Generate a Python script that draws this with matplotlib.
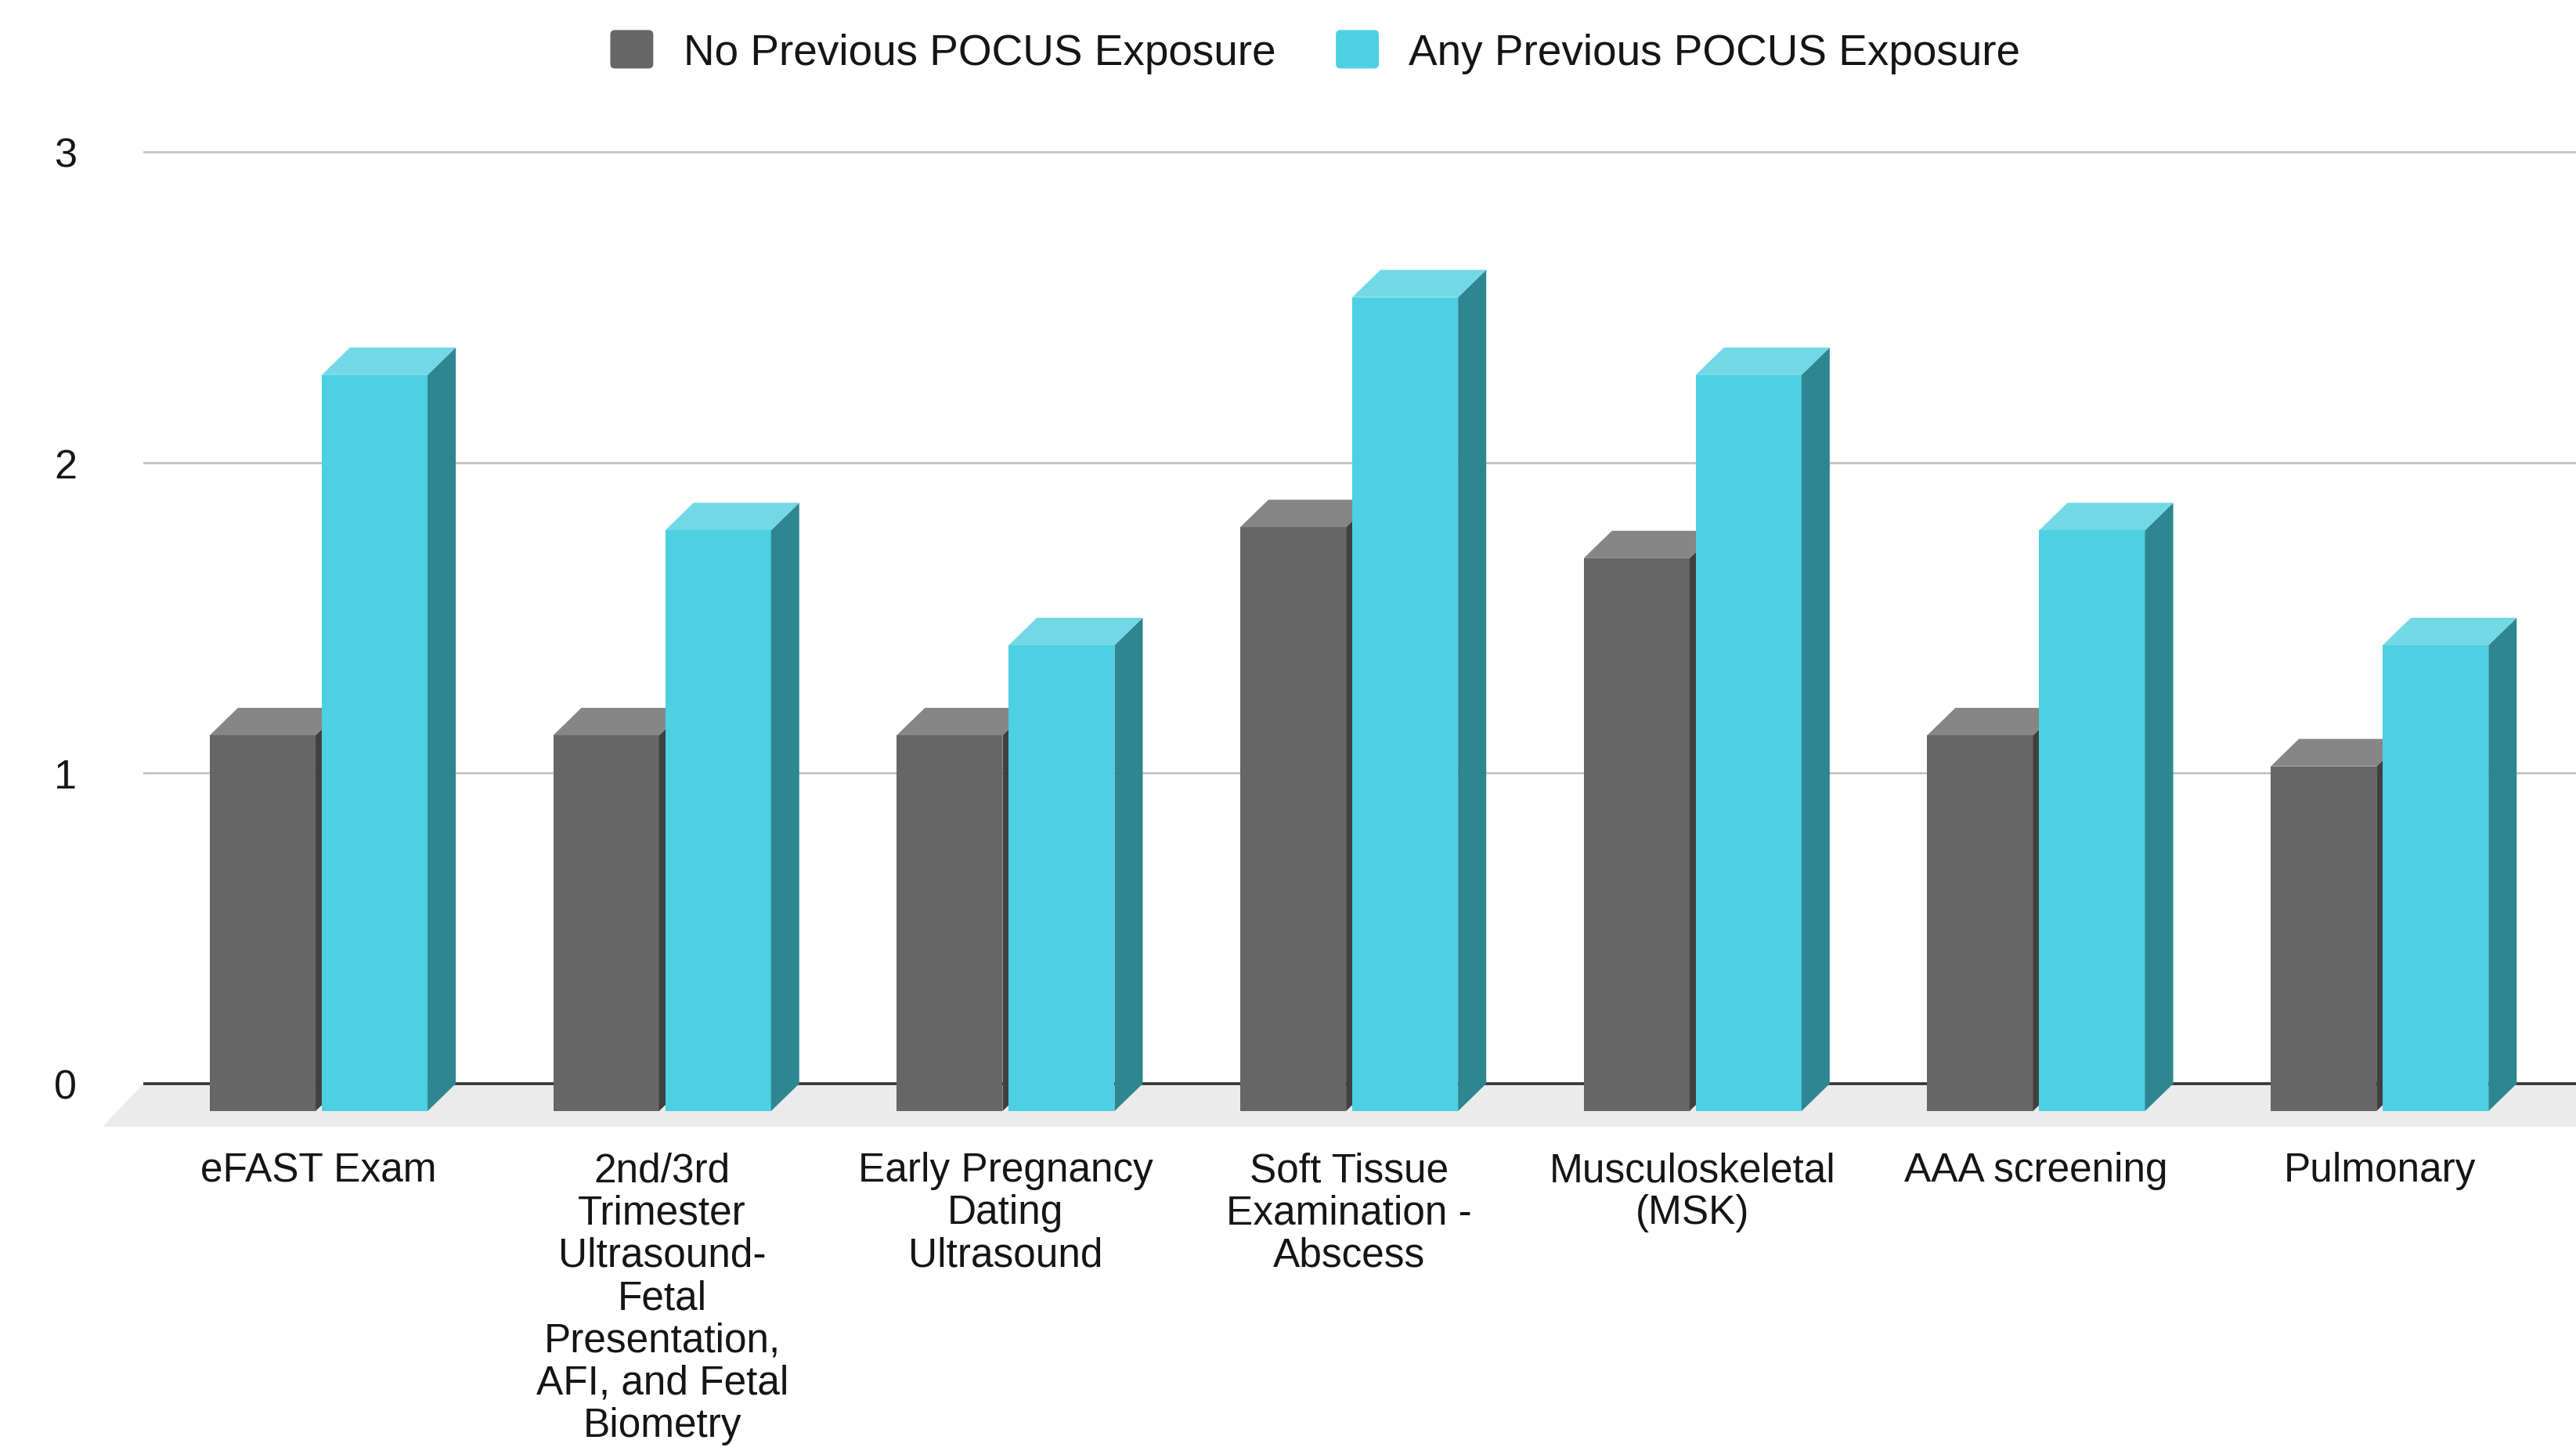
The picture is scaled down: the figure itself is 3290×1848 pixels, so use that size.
import matplotlib
matplotlib.use("Agg")
import matplotlib.pyplot as plt
from matplotlib.patches import Patch, FancyBboxPatch
from matplotlib.legend_handler import HandlerPatch

plt.rcParams["font.family"] = ["Liberation Sans", "DejaVu Sans"]

# ---- data -------------------------------------------------------
categories = [
    "eFAST Exam",
    "2nd/3rd\nTrimester\nUltrasound-\nFetal\nPresentation,\nAFI, and Fetal\nBiometry",
    "Early Pregnancy\nDating\nUltrasound",
    "Soft Tissue\nExamination -\nAbscess",
    "Musculoskeletal\n(MSK)",
    "AAA screening",
    "Pulmonary",
]
series_names = ["No Previous POCUS Exposure", "Any Previous POCUS Exposure"]
no_exposure  = [1.21, 1.21, 1.21, 1.88, 1.78, 1.21, 1.11]
any_exposure = [2.37, 1.87, 1.50, 2.62, 2.37, 1.87, 1.50]
yticks = [0, 1, 2, 3]

# ---- style -------------------------------------------------------
W, H = 3291, 1849
TEXT = "#151515"
GRAY = {"front": "#666666", "top": "#868686", "side": "#404040"}
CYAN = {"front": "#4dd0e1", "top": "#73d8e5", "side": "#2e8691"}

# pixel scale of the plot (px per category / px per unit)
PX_X = 438.7
PX_Y = 396.7
x_left, x_right = (183 - 407) / PX_X, (W - 407) / PX_X
y_bot, y_top = -(1460 - 1385) / PX_Y, (1385 - 150) / PX_Y

depth_x = 36 / PX_X     # 3D depth of bars
depth_y = 35 / PX_Y
floor_x = 52 / PX_X     # depth of the floor
floor_y = 55 / PX_Y
half_gap = 0.009
bar_w = 0.308


class RoundedSquare(HandlerPatch):
    def create_artists(self, legend, orig_handle, xdescent, ydescent,
                       width, height, fontsize, trans):
        p = FancyBboxPatch((-xdescent, -ydescent), width, height,
                           boxstyle=f"round,pad=0,rounding_size={0.12 * height}",
                           facecolor=orig_handle.get_facecolor(), lw=0,
                           transform=trans)
        return [p]


fig = plt.figure(figsize=(W / 100, H / 100), dpi=100, facecolor="white")
ax = fig.add_axes([183 / W, (H - 1460) / H, (W - 183) / W, (1460 - 150) / H])
ax.set_xlim(x_left, x_right)
ax.set_ylim(y_bot, y_top)
for s in ax.spines.values():
    s.set_visible(False)

# floor + gridlines
ax.fill([x_left, x_right, x_right, x_left - floor_x],
        [0, 0, -floor_y, -floor_y],
        color="#ebebeb", lw=0, zorder=1, clip_on=False)
for t in yticks[1:]:
    ax.axhline(t, color="#c4c4c4", lw=2.0, zorder=2)
ax.axhline(0, color="#333333", lw=2.6, zorder=3)


def bar3d(x0, v, c, z):
    x1 = x0 + bar_w
    dx, dy = depth_x, depth_y
    # front
    ax.fill([x0, x1, x1, x0], [-dy, -dy, v - dy, v - dy],
            color=c["front"], lw=0, zorder=z)
    # side
    ax.fill([x1, x1 + dx, x1 + dx, x1], [-dy, 0, v, v - dy],
            color=c["side"], lw=0, zorder=z)
    # top
    ax.fill([x0, x1, x1 + dx, x0 + dx], [v - dy, v - dy, v, v],
            color=c["top"], lw=0, zorder=z)


for i, (a, b) in enumerate(zip(no_exposure, any_exposure)):
    bar3d(i - half_gap - bar_w, a, GRAY, 4 + 2 * i)
    bar3d(i + half_gap, b, CYAN, 5 + 2 * i)

# axes ticks
ax.set_yticks(yticks)
ax.set_yticklabels([str(t) for t in yticks], fontsize=37.5, color=TEXT)
ax.set_xticks(range(len(categories)))
ax.set_xticklabels(categories, fontsize=37, color=TEXT, linespacing=1.14)
ax.tick_params(axis="y", length=0, pad=61)
ax.tick_params(axis="x", length=0, pad=8)

# legend
handles = [Patch(facecolor=GRAY["front"]), Patch(facecolor=CYAN["front"])]
fig.legend(handles, series_names, loc="center",
           bbox_to_anchor=(1680 / W, 1 - 67 / H), ncol=2, frameon=False,
           fontsize=39.5, handlelength=1.0, handleheight=1.0,
           handletextpad=0.7, columnspacing=1.4, labelcolor=TEXT,
           handler_map={Patch: RoundedSquare()})

fig.savefig("out.png", dpi=100, facecolor="white")
